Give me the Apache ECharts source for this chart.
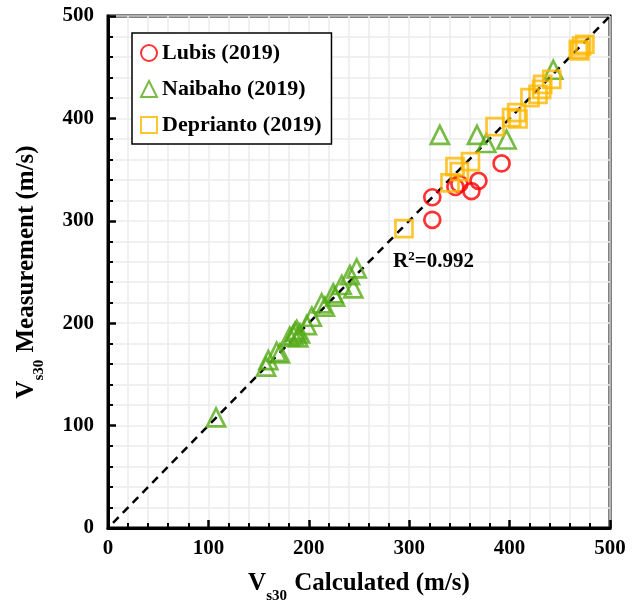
<!DOCTYPE html>
<html>
<head>
<meta charset="utf-8">
<script src="https://cdn.jsdelivr.net/npm/echarts@6/dist/echarts.min.js"></script>
<style>
  html, body { margin: 0; padding: 0; background: #fff; }
  #chart { width: 643px; height: 602px; }
</style>
</head>
<body>
<div id="chart"></div>
<script>
  // [calculated, measured]
  var lubis = [[323, 323], [323, 301], [346, 333], [350, 336], [362, 329], [369, 339], [392, 356]];
  var naibaho = [
    [107.6, 108], [157.4, 157.5], [159.7, 164], [168, 172], [171.3, 170.6],
    [181, 186.8], [184.6, 188.5], [186.3, 191.7], [188, 193.4], [189.5, 186.2], [191.2, 190],
    [198, 198.2], [203, 206.3], [212.8, 219.4], [216, 216.1], [224.4, 229.2], [226.1, 225.9],
    [232.8, 237.3], [241, 247], [244.3, 234], [247.7, 253.6],
    [330.5, 384], [367.5, 384], [376.8, 376], [397, 379.4], [443.5, 447.5]
  ];
  var deprianto = [
    [294.8, 292.4], [340.6, 337], [345.6, 352.9], [350, 348], [361, 357.7],
    [385.5, 392], [402, 400.7], [407, 405.6], [408.4, 399.4], [420.3, 420.2],
    [428.3, 423.5], [431.9, 428.4], [433, 433.3], [442, 438.2],
    [468.4, 467.5], [470, 466], [471.8, 470.7], [475, 472.4]
  ];
  var fitLine = [[5, 5], [500, 500]];
  var seriesNames = ['Lubis (2019)', 'Naibaho (2019)', 'Deprianto (2019)'];

  var font = '"Liberation Serif", "Times New Roman", serif';
  var chart = echarts.init(document.getElementById('chart'));

  var axisCommon = {
    min: 0,
    max: 500,
    interval: 100,
    axisLine: { show: true, lineStyle: { color: '#000', width: 3 } },
    axisTick: { show: true, inside: true, length: 8, lineStyle: { color: '#000', width: 2.5 } },
    minorTick: { show: true, splitNumber: 5, length: 5, lineStyle: { color: '#000', width: 2 } },
    splitLine: { show: true, lineStyle: { color: '#ececec', width: 1.5 } },
    minorSplitLine: { show: true, lineStyle: { color: '#ececec', width: 1.5 } },
    axisLabel: { color: '#000', fontFamily: font, fontWeight: 'bold', fontSize: 21 },
    nameTextStyle: {
      rich: {
        a: { fontFamily: font, fontWeight: 'bold', fontSize: 25, color: '#000', lineHeight: 28 },
        b: { fontFamily: font, fontWeight: 'bold', fontSize: 15, color: '#000', verticalAlign: 'bottom', lineHeight: 28, padding: [0, 1, -6, 0] }
      }
    }
  };

  chart.setOption({
    animation: false,
    grid: { left: 108, right: 33, top: 16, bottom: 74, outerBoundsMode: 'none', show: true, borderColor: '#000', borderWidth: 3 },
    legend: {
      data: seriesNames,
      orient: 'vertical',
      left: 132,
      top: 33,
      padding: [9, 10, 8, 8],
      itemGap: 14,
      itemWidth: 16,
      itemHeight: 16,
      borderColor: '#000',
      borderWidth: 1.5,
      backgroundColor: '#fff',
      textStyle: { fontFamily: font, fontWeight: 'bold', fontSize: 22, color: '#000' }
    },
    xAxis: Object.assign({}, axisCommon, {
      type: 'value',
      name: '{a|V}{b|s30}{a| Calculated (m/s)}',
      nameLocation: 'middle',
      nameGap: 42,
      axisLabel: Object.assign({}, axisCommon.axisLabel, { margin: 10 })
    }),
    yAxis: Object.assign({}, axisCommon, {
      type: 'value',
      name: '{a|V}{b|s30}{a| Measurement (m/s)}',
      nameLocation: 'middle',
      nameGap: 67,
      axisLabel: Object.assign({}, axisCommon.axisLabel, { margin: 14 })
    }),
    graphic: [{
      type: 'text',
      left: 393,
      top: 250,
      z: 10,
      style: {
        text: '{a|R}{s|2}{a|=0.992}',
        rich: {
          a: { fontFamily: font, fontWeight: 'bold', fontSize: 21, fill: '#000', lineHeight: 24 },
          s: { fontFamily: font, fontWeight: 'bold', fontSize: 13, fill: '#000', verticalAlign: 'top', lineHeight: 24 }
        }
      }
    }],
    series: [
      {
        name: 'fit',
        type: 'line',
        data: fitLine,
        symbol: 'none',
        silent: true,
        z: 1,
        lineStyle: { color: '#000', width: 2.5, type: [8, 6] }
      },
      {
        name: seriesNames[0],
        type: 'scatter',
        data: lubis,
        symbol: 'circle',
        symbolSize: 16,
        z: 3,
        itemStyle: { color: 'rgba(255,255,255,0)', borderColor: '#ff0000', borderWidth: 2.7 }
      },
      {
        name: seriesNames[1],
        type: 'scatter',
        data: naibaho,
        symbol: 'triangle',
        symbolSize: 18,
        z: 2,
        itemStyle: { color: 'rgba(255,255,255,0)', borderColor: '#56ab18', borderWidth: 2.7 }
      },
      {
        name: seriesNames[2],
        type: 'scatter',
        data: deprianto,
        symbol: 'rect',
        symbolSize: 17,
        z: 4,
        itemStyle: { color: 'rgba(255,255,255,0)', borderColor: '#ffb800', borderWidth: 2.7 }
      }
    ]
  });
</script>
</body>
</html>
